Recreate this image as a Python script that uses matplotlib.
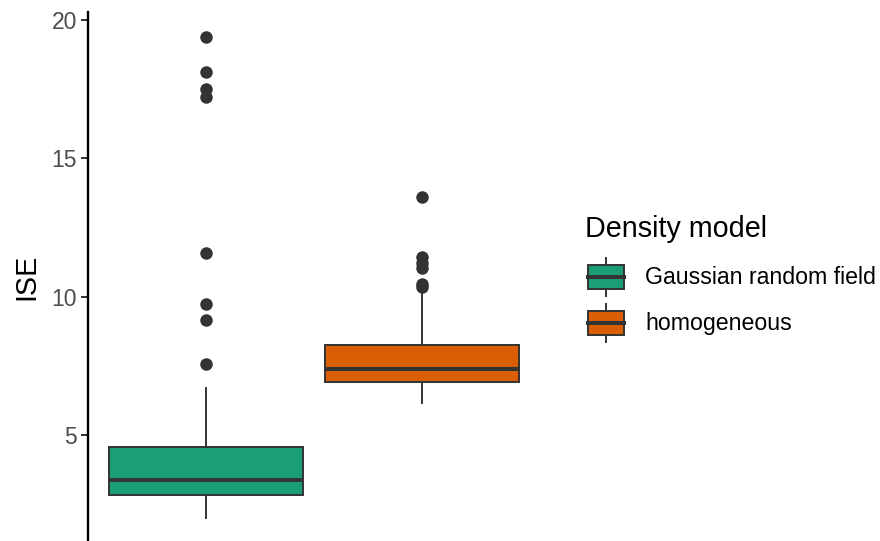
import matplotlib
matplotlib.use("Agg")
import matplotlib.pyplot as plt
from matplotlib.legend_handler import HandlerBase
from matplotlib.patches import Patch, Rectangle
from matplotlib.lines import Line2D

plt.rcParams["font.family"] = ["Liberation Sans", "DejaVu Sans"]

# box summaries per density model
groups = ["Gaussian random field", "homogeneous"]
colors = ["#1B9E77", "#D95F02"]
q1 = [2.85, 6.90]
medians = [3.36, 7.40]
q3 = [4.55, 8.27]
whis_lo = [1.99, 6.17]
whis_hi = [6.71, 10.13]
fliers = [
    [7.55, 9.17, 9.75, 11.59, 17.22, 17.51, 18.12, 19.39],
    [10.34, 10.46, 11.04, 11.23, 11.45, 13.61],
]
yticks = [5, 10, 15, 20]

edge = "#333333"


class BoxKey(HandlerBase):
    # little boxplot glyph for the legend
    def create_artists(self, legend, orig_handle, xdescent, ydescent,
                       width, height, fontsize, trans):
        cx = -xdescent + width / 2
        cy = -ydescent + height / 2
        hw, hh, wh = 0.78 * fontsize, 0.5 * fontsize, 0.82 * fontsize
        whisk = Line2D([cx, cx], [cy - wh, cy + wh], color=edge, lw=1.4,
                       transform=trans)
        box = Rectangle((cx - hw, cy - hh), 2 * hw, 2 * hh,
                        facecolor=orig_handle.get_facecolor(),
                        edgecolor=edge, lw=1.4, transform=trans)
        med = Line2D([cx - hw, cx + hw], [cy, cy], color=edge, lw=2.9,
                     transform=trans)
        return [whisk, box, med]


fig = plt.figure(figsize=(8.8, 5.41), dpi=100)
ax = fig.add_axes([88 / 880, 0.0, 0.527, 0.978])

stats = []
for i, g in enumerate(groups):
    stats.append(dict(label=g, med=medians[i], q1=q1[i], q3=q3[i],
                      whislo=whis_lo[i], whishi=whis_hi[i], fliers=fliers[i]))

bp = ax.bxp(stats, positions=[1, 2], widths=0.9, patch_artist=True,
            showcaps=False,
            boxprops=dict(edgecolor=edge, linewidth=1.4),
            whiskerprops=dict(color=edge, linewidth=1.4),
            medianprops=dict(color=edge, linewidth=2.9, solid_capstyle="butt"),
            flierprops=dict(marker="o", markerfacecolor=edge,
                            markeredgecolor="none", markersize=9))
for patch, c in zip(bp["boxes"], colors):
    patch.set_facecolor(c)

ax.set_xlim(0.454, 2.6)
ax.set_ylim(1.17, 20.29)
ax.set_yticks(yticks)
ax.set_xticks([])
ax.tick_params(axis="y", length=5, width=1.4, color=edge, pad=3,
               labelsize=16.5, labelcolor="#4D4D4D")
for side in ["top", "right", "bottom"]:
    ax.spines[side].set_visible(False)
ax.spines["left"].set_linewidth(1.7)
ax.spines["left"].set_color("black")
ax.set_ylabel("ISE", fontsize=20.7, labelpad=8)

# legend
fig.text(585 / 880, 1 - 237 / 541, "Density model", fontsize=20.7,
         va="baseline", ha="left")
handles = [Patch(facecolor=c) for c in colors]
fig.legend(handles, groups, handler_map={Patch: BoxKey()},
           loc="upper left", bbox_to_anchor=(585 / 880, 1 - 254 / 541),
           bbox_transform=fig.transFigure, frameon=False, fontsize=16.7,
           handlelength=1.81, handleheight=2.67, labelspacing=0.0,
           handletextpad=0.78, borderpad=0.0, borderaxespad=0.0)

fig.savefig("out.png", dpi=100)
